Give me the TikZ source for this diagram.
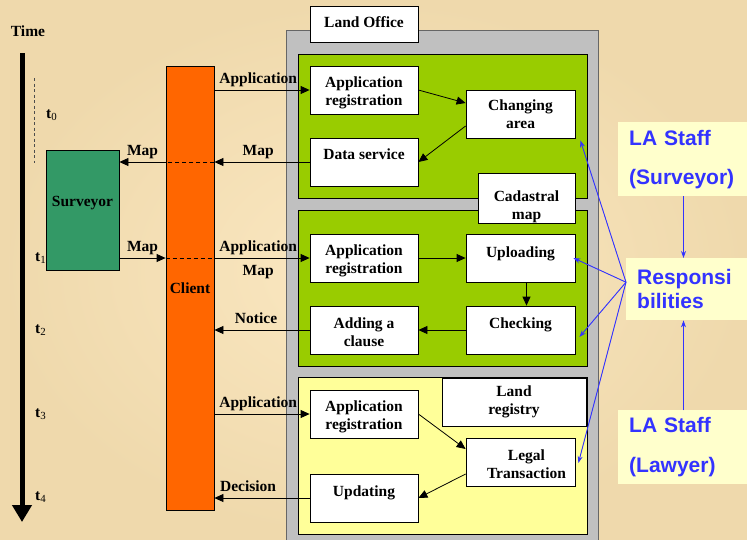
\documentclass[tikz,border=0pt]{standalone}
\usepackage{fontspec}
\setmainfont{Liberation Serif}
\newfontfamily\blusans{Liberation Sans}
\usetikzlibrary{arrows.meta,calc}
\definecolor{bgin}{HTML}{FBE8C2}
\definecolor{bgout}{HTML}{EFD9AC}
\definecolor{officegrey}{HTML}{C0C0C0}
\definecolor{panelgreen}{HTML}{99CC00}
\definecolor{panelyellow}{HTML}{FFFF99}
\definecolor{survgreen}{HTML}{339966}
\definecolor{clientorange}{HTML}{FF6600}
\definecolor{notepale}{HTML}{FFFFCC}
\definecolor{noteblue}{HTML}{3333FF}
\newcommand{\lowerby}[1]{\rule{0pt}{#1}}
\tikzset{
  txt/.style={font=\fontsize{15.5}{18}\selectfont\bfseries, inner sep=0pt},
  procbox/.style={txt, draw=black, fill=white, line width=0.8pt, minimum width=108pt, minimum height=48pt, align=center},
  arr/.style={-{Triangle[length=9pt,width=8pt]}, line width=0.8pt},
  lab/.style={txt, anchor=base, yshift=7pt},
  barr/.style={-{Stealth[length=7pt,width=5pt]}, draw=noteblue, fill=noteblue, line width=0.9pt},
  note/.style={fill=notepale, anchor=north west, align=left, font=\blusans\bfseries\fontsize{21}{25}\selectfont, text=noteblue, inner xsep=11pt, inner ysep=2pt, text width=120pt},
  dline/.style={line width=0.8pt, dash pattern=on 4pt off 3pt}
}
\begin{document}
\begin{tikzpicture}[x=1pt,y=-1pt]
\clip (0,0) rectangle (747,539);
\shade[inner color=bgin, outer color=bgout] (0,0) rectangle (747,539);

% time axis
\node[txt] (time) at (28,31) {Time};
\draw[line width=5pt, -{Triangle[length=17pt,width=19pt]}] (22,53) -- (22,522);
\draw[line width=0.5pt, draw=black!70, dash pattern=on 3pt off 2.5pt] (34,78) -- (34,163);
\node[txt, anchor=west] (t0) at (46,115) {t\textsubscript{\mdseries 0}};
\node[txt, anchor=west] (t1) at (35,258) {t\textsubscript{\mdseries 1}};
\node[txt, anchor=west] (t2) at (35,330) {t\textsubscript{\mdseries 2}};
\node[txt, anchor=west] (t3) at (35,414) {t\textsubscript{\mdseries 3}};
\node[txt, anchor=west] (t4) at (35,497) {t\textsubscript{\mdseries 4}};

% actors
\node[draw=black, fill=survgreen, line width=0.8pt, minimum width=73pt, minimum height=120pt, inner sep=0pt] (surv) at (82.5,210) {};
\node[txt] (survtext) at (82.5,203) {Surveyor};
\node[txt, draw=black, fill=clientorange, line width=0.8pt, minimum width=48pt, minimum height=444pt] (client) at (190,288) {Client};

% land office
\draw[draw=black!60, fill=officegrey, line width=0.8pt] (286,30) rectangle (598,560);
\draw[draw=black, fill=panelgreen, line width=0.8pt] (298,54) rectangle (587,198);
\draw[draw=black, fill=panelgreen, line width=0.8pt] (298,210) rectangle (587,366);
\draw[draw=black, fill=panelyellow, line width=0.8pt] (298,377) rectangle (587,534);
\node[procbox, minimum height=36pt, text depth=4pt] (office) at (364,24) {Land Office};

\node[procbox] (ar1) at (364,90) {\lowerby{15.5pt}Application\\registration};
\node[procbox, minimum width=109pt] (ca) at (520.5,114) {Changing\\area};
\node[procbox, text depth=16pt] (ds) at (364,162) {Data service};
\node[procbox, minimum width=97pt] (cm) at (526.5,198) {\lowerby{28.6pt}Cadastral\\map};

\node[procbox] (ar2) at (364,258) {\lowerby{15.5pt}Application\\registration};
\node[procbox, minimum width=109pt, text depth=12pt] (up) at (520.5,258) {Uploading};
\node[procbox] (ac) at (364,330) {\lowerby{15.5pt}Adding a\\clause};
\node[procbox, minimum width=109pt, text depth=14pt] (chk) at (520.5,330) {Checking};

\node[procbox, minimum width=144pt] (lr) at (514,402) {Land\\registry};
\node[procbox] (ar3) at (364,414) {\lowerby{15.5pt}Application\\registration};
\node[procbox, minimum width=109pt] (lt) at (520.5,462) {\lowerby{15.5pt}\hspace*{12pt}Legal\\\hspace*{12pt}Transaction};
\node[procbox, text depth=14pt] (upd) at (364,498) {Updating};

% flows
\draw[arr] (ar1.west -| client.east) -- node[lab, pos=0.46]{Application} (ar1.west);
\draw[arr] (ar1.east) -- ($(ca.west)+(0,-11)$);
\draw[arr] ($(ca.west)+(0,12)$) -- (ds.east);
\draw[arr] (ds.west) -- node[lab, pos=0.54]{Map} (ds.west -| client.east);
\draw[dline] (ds.west -| client.east) -- (ds.west -| client.west);
\draw[arr] (ds.west -| client.west) -- node[lab]{Map} (ds.west -| surv.east);

\draw[arr] (ar2.west -| surv.east) -- node[lab]{Map} (ar2.west -| client.west);
\draw[dline] (ar2.west -| client.west) -- (ar2.west -| client.east);
\draw[arr] (ar2.west -| client.east) -- node[lab, pos=0.46]{Application} node[lab, pos=0.46, yshift=-24pt]{Map} (ar2.west);
\draw[arr] (ar2.east) -- (up.west);
\draw[arr] ($(up.south)+(6,0)$) -- ($(chk.north)+(6,0)$);
\draw[arr] (chk.west) -- (ac.east);
\draw[arr] (ac.west) -- node[lab, pos=0.5625]{Notice} (ac.west -| client.east);

\draw[arr] (ar3.west -| client.east) -- node[lab, pos=0.46]{Application} (ar3.west);
\draw[arr] (ar3.east) -- ($(lt.west)+(0,-13)$);
\draw[arr] ($(lt.west)+(0,12)$) -- (upd.east);
\draw[arr] (upd.west) -- node[lab, pos=0.646]{Decision} (upd.west -| client.east);

% responsibilities
\node[note, minimum height=74pt] (las) at (618,122) {LA Staff\\[14pt](Surveyor)};
\node[note, minimum height=62pt, font=\blusans\bfseries\fontsize{21}{24}\selectfont] (resp) at (626,258) {Responsi\\bilities};
\node[note, minimum height=74pt] (lal) at (618,410) {LA Staff\\[15pt](Lawyer)};

\coordinate (lasfoot) at ($(las.south west)+(65.5,0)$);
\coordinate (lalhead) at ($(lal.north west)+(65.5,0)$);
\draw[barr] (lasfoot) -- (lasfoot |- resp.north);
\draw[barr] (lalhead) -- (lalhead |- resp.south);
\coordinate (rs) at ($(resp.west)+(0,-7)$);
\draw[barr] (rs) -- ($(ca.south east)+(5,2)$);
\draw[barr] (rs) -- ($(up.east)+(-2,0)$);
\draw[barr] (rs) -- ($(chk.east)+(4,7)$);
\draw[barr] (rs) -- ($(lt.east)+(3,1)$);
\end{tikzpicture}
\end{document}
